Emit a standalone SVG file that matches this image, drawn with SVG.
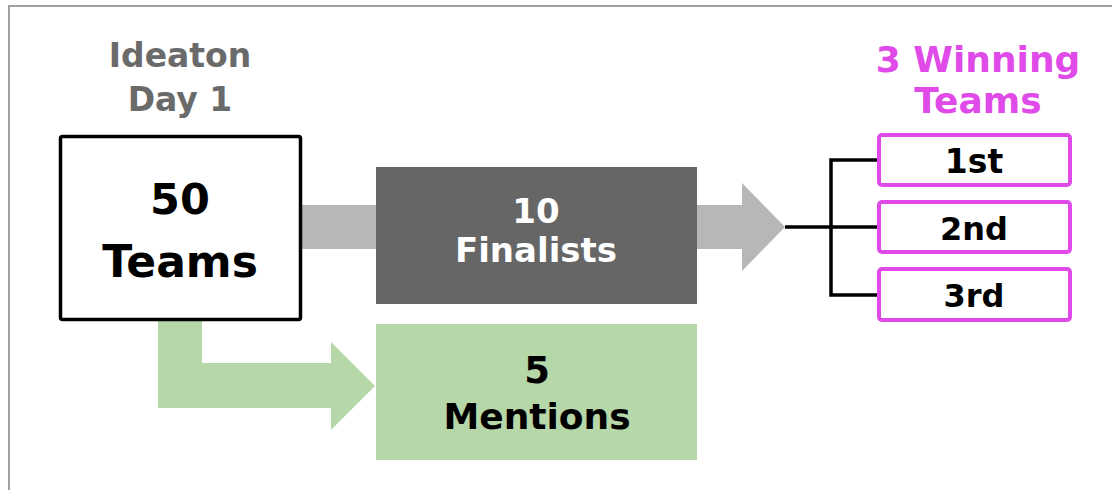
<svg xmlns="http://www.w3.org/2000/svg" width="1112" height="490" viewBox="0 0 1112 490">
<style>
text{font-family:"DejaVu Sans","Liberation Sans",sans-serif;font-weight:bold;text-anchor:middle}
.gray{fill:#6a6a6a}
.pink{fill:#df4ae8}
.blk{fill:#000000}
.wht{fill:#ffffff}
.pbox{fill:#ffffff;stroke:#df4ae8;stroke-width:4}
.conn{fill:none;stroke:#000000;stroke-width:3.5}
</style>
<rect width="1112" height="490" fill="#ffffff"/>
<path d="M9,490 L9,6 L1112,6" fill="none" stroke="#a0a0a0" stroke-width="2"/>
<g id="connectors">
<path id="arrow-finalists" d="M300,205 L742,205 L742,183 L785,227 L742,271 L742,249 L300,249 Z" fill="#b7b7b7"/>
<path id="arrow-mentions" d="M158,318 L202,318 L202,363 L331,363 L331,342 L375,386 L331,430 L331,408 L158,408 Z" fill="#b6d7a8"/>
<path class="conn" d="M785,227 L831,227 M831,160 L831,295 M829.25,160 L878,160 M831,227 L878,227 M829.25,295 L878,295"/>
</g>
<g id="label-ideaton">
<text class="gray" x="180" y="67" font-size="33">Ideaton</text>
<text class="gray" x="180" y="111" font-size="33">Day 1</text>
</g>
<g id="node-50teams">
<rect x="60.5" y="136.5" width="240" height="183" rx="2" fill="#ffffff" stroke="#000000" stroke-width="3.5"/>
<text class="blk" x="180" y="214" font-size="43">50</text>
<text class="blk" x="180" y="277" font-size="44">Teams</text>
</g>
<g id="node-finalists">
<rect x="376" y="167" width="321" height="137" fill="#666666"/>
<text class="wht" x="536" y="223" font-size="34">10</text>
<text class="wht" x="536" y="262" font-size="34">Finalists</text>
</g>
<g id="node-mentions">
<rect x="376" y="324" width="321" height="136" fill="#b6d7a8"/>
<text class="blk" x="537" y="383" font-size="37">5</text>
<text class="blk" x="537" y="429" font-size="36">Mentions</text>
</g>
<g id="label-winning">
<text class="pink" x="978" y="72" font-size="36">3 Winning</text>
<text class="pink" x="978" y="113" font-size="36">Teams</text>
</g>
<g id="node-1st">
<rect class="pbox" x="879" y="135" width="191" height="50" rx="3"/>
<text class="blk" x="974" y="173" font-size="33">1st</text>
</g>
<g id="node-2nd">
<rect class="pbox" x="879" y="202" width="191" height="50" rx="3"/>
<text class="blk" x="974" y="240" font-size="32">2nd</text>
</g>
<g id="node-3rd">
<rect class="pbox" x="879" y="269" width="191" height="51" rx="3"/>
<text class="blk" x="974" y="307" font-size="32">3rd</text>
</g>
</svg>
